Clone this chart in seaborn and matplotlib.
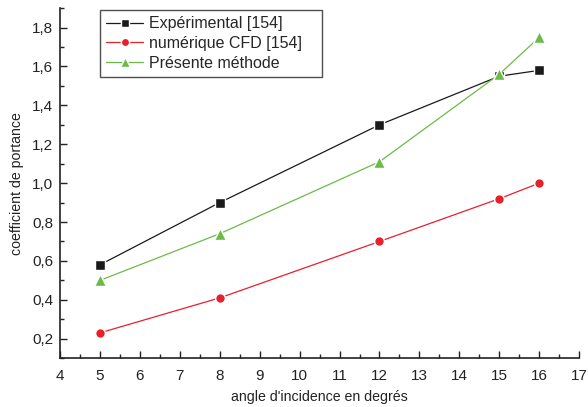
import matplotlib.pyplot as plt
import numpy as np
import pandas as pd
import seaborn as sns
from matplotlib.ticker import MultipleLocator, FuncFormatter

angles = [5, 8, 12, 15, 16]
experimental = [0.58, 0.90, 1.30, 1.55, 1.58]
cfd = [0.23, 0.41, 0.70, 0.92, 1.00]
presente = [0.50, 0.74, 1.11, 1.56, 1.75]
labels = ['Expérimental [154]', 'numérique CFD [154]', 'Présente méthode']

sns.set_style("ticks")
plt.rcParams['font.family'] = ['Liberation Sans', 'DejaVu Sans']
plt.rcParams['xtick.direction'] = 'in'
plt.rcParams['ytick.direction'] = 'in'

fig = plt.figure(figsize=(5.88, 4.07), dpi=100)
ax = fig.add_axes([0.102, 0.120, 0.883, 0.860])

sns.lineplot(x=angles, y=experimental, ax=ax, color='#1a1a1a', marker='s', markersize=7,
             markeredgewidth=1, markeredgecolor='white', linewidth=0.9, label=labels[0])
sns.lineplot(x=angles, y=cfd, ax=ax, color='#e8202a', marker='o', markersize=7,
             markeredgewidth=1, markeredgecolor='white', linewidth=0.9, label=labels[1])
sns.lineplot(x=angles, y=presente, ax=ax, color='#6cbb46', marker='^', markersize=9,
             markeredgewidth=1, markeredgecolor='white', linewidth=0.9, label=labels[2])

ax.set_xlim(4, 17)
ax.set_ylim(0.1, 1.9)
ax.xaxis.set_major_locator(MultipleLocator(1))
ax.xaxis.set_minor_locator(MultipleLocator(0.5))
ax.yaxis.set_major_locator(MultipleLocator(0.2))
ax.yaxis.set_minor_locator(MultipleLocator(0.1))
ax.yaxis.set_major_formatter(FuncFormatter(lambda v, p: f"{v:.1f}".replace('.', ',')))
ax.tick_params(which='major', length=5, width=1, labelsize=11, color='#222222', labelcolor='#222222')
ax.tick_params(axis='x', which='major', pad=8)
ax.tick_params(axis='y', which='major', pad=5)
ax.tick_params(which='minor', length=3, width=1, color='#222222')
for s in ['top', 'right']:
    ax.spines[s].set_visible(False)
for s in ['left', 'bottom']:
    ax.spines[s].set_linewidth(1.2)
    ax.spines[s].set_color('#222222')

ax.set_xlabel("angle d'incidence en degrés", fontsize=10.2, color='#222222', labelpad=5)
ax.set_ylabel("coefficient de portance", fontsize=10.2, color='#222222', labelpad=6)

leg = ax.legend(loc='upper left', bbox_to_anchor=(0.077, 0.80, 0.427, 0.195), mode='expand',
                fontsize=11.5, frameon=True, markerscale=0.85,
                fancybox=False, edgecolor='#222222', borderpad=0.4, labelspacing=0.3,
                handlelength=2.3, handletextpad=0.4, borderaxespad=0.0)
leg.get_frame().set_linewidth(1.0)

plt.savefig('out.png', dpi=100)
